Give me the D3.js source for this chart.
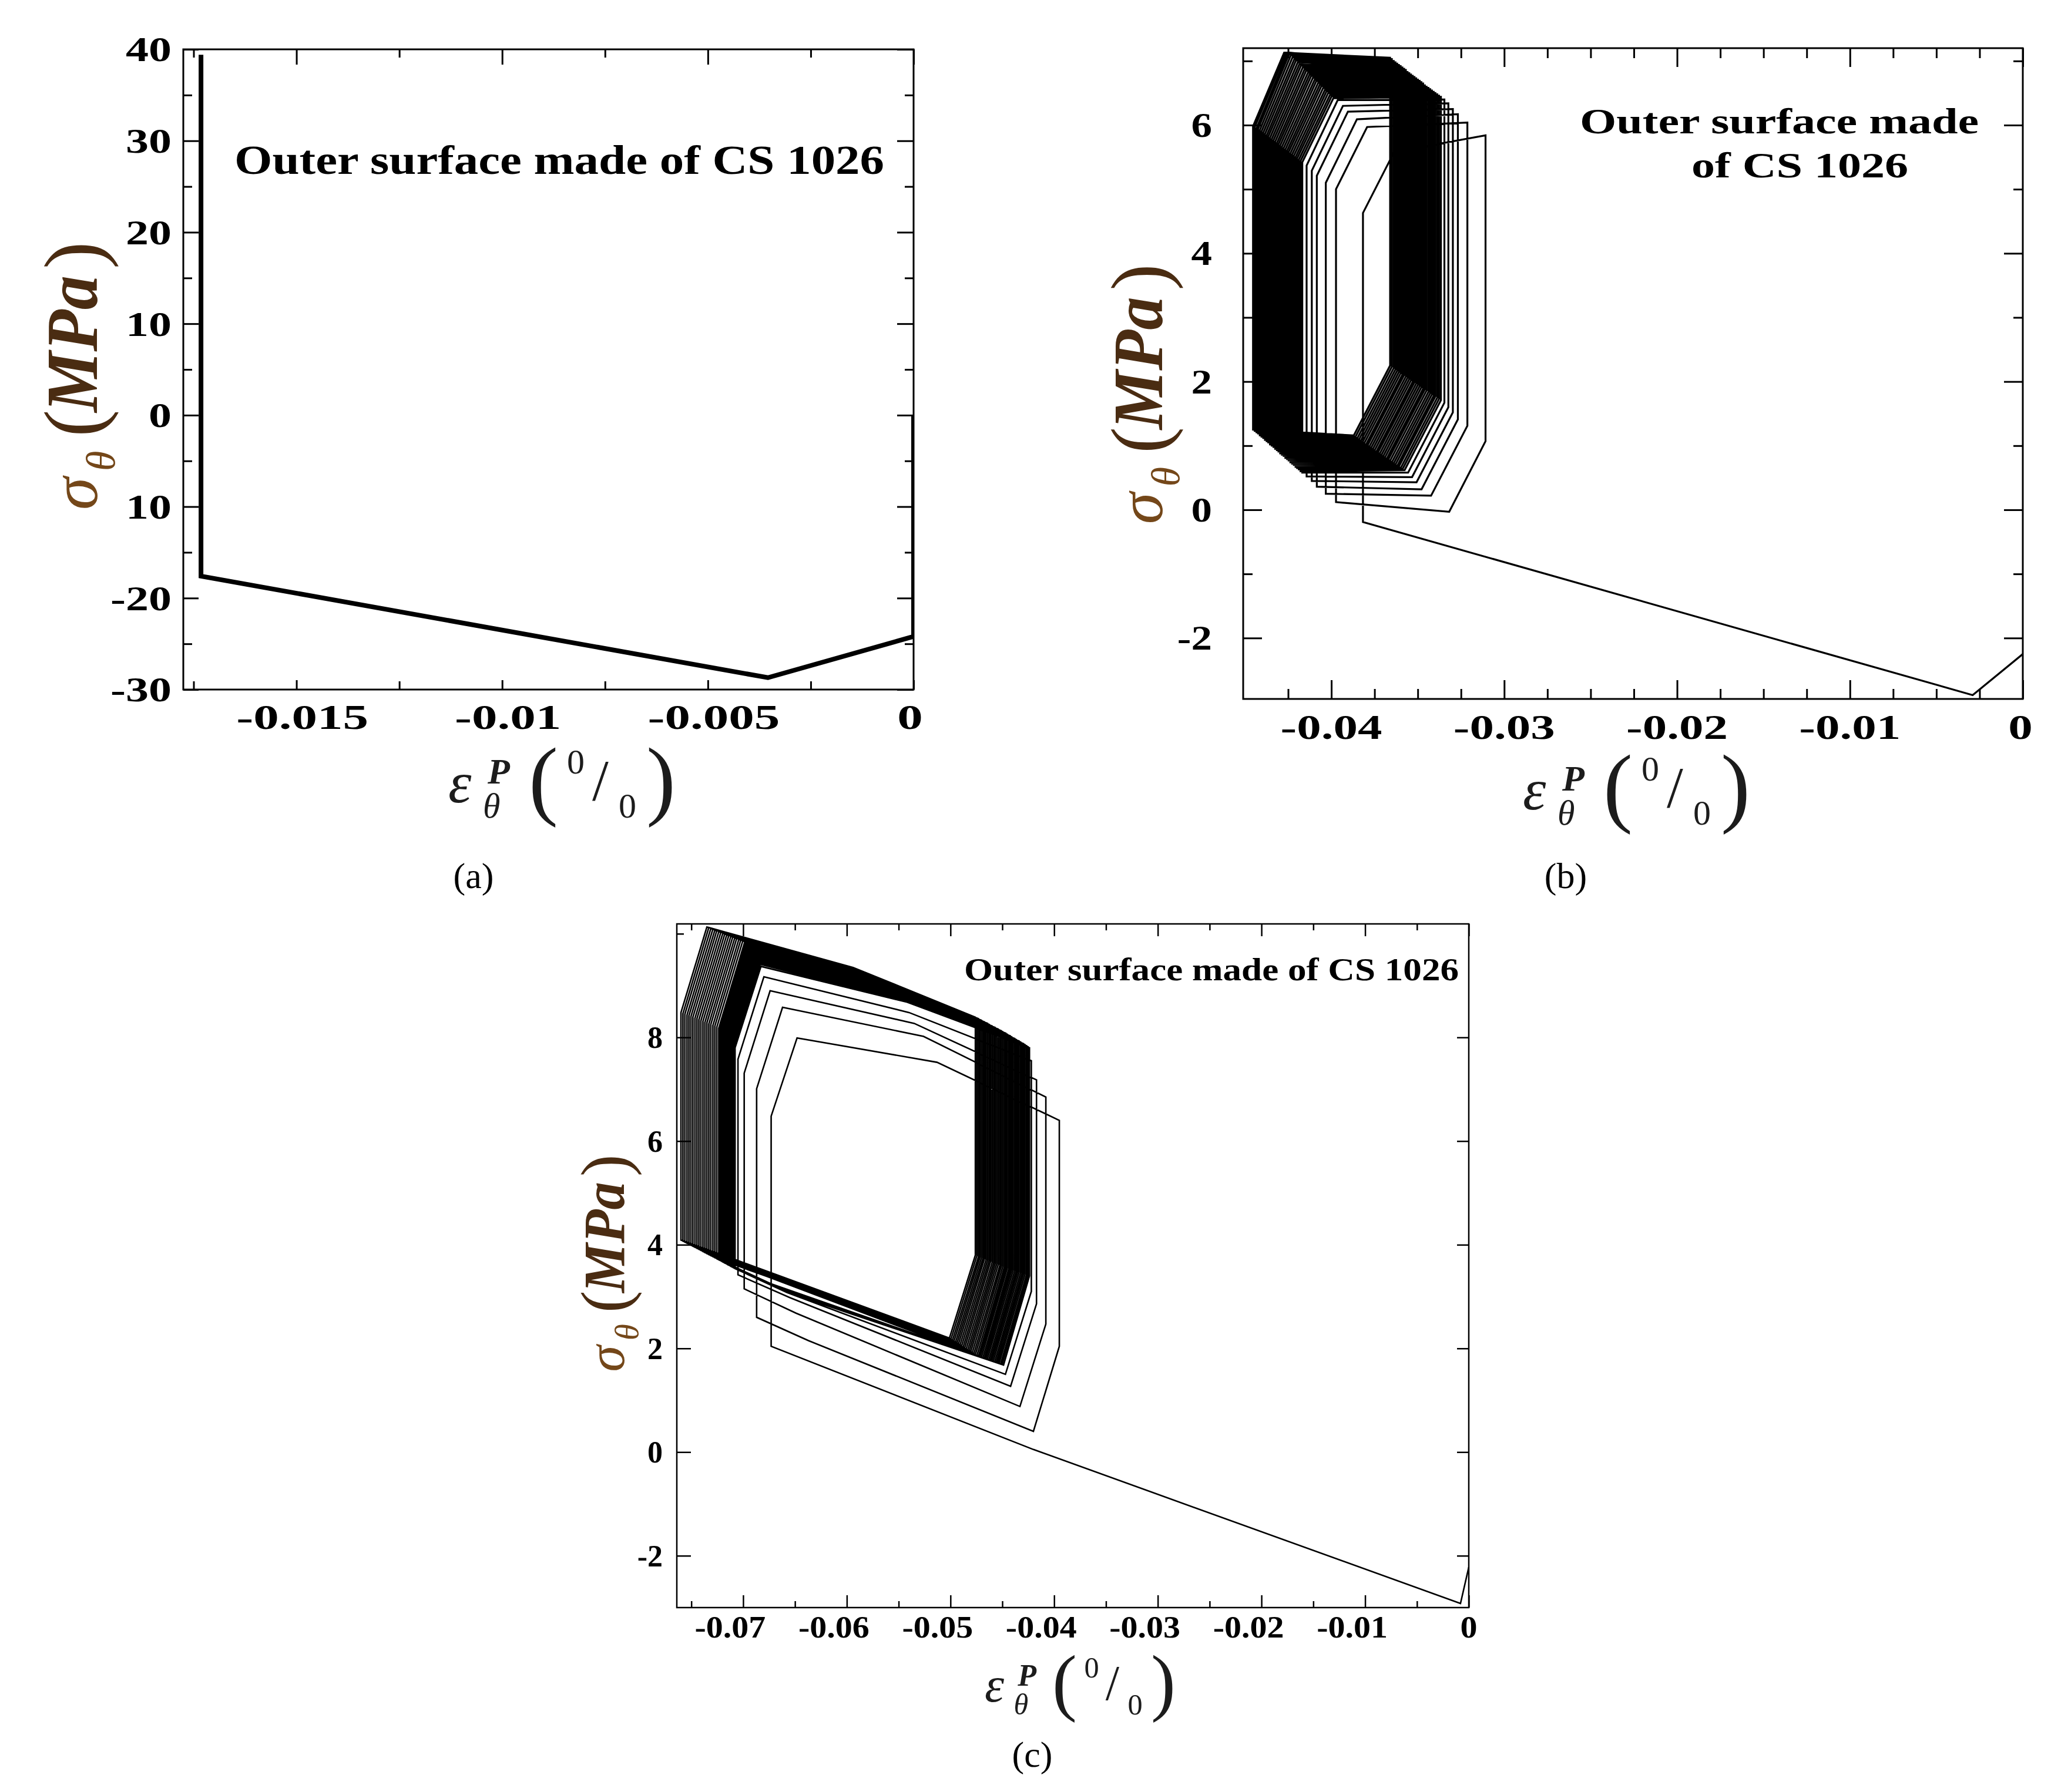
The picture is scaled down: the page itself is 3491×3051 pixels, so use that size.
<!DOCTYPE html>
<html><head><meta charset="utf-8">
<script src="https://cdn.jsdelivr.net/npm/d3@7"></script>
<style>body{margin:0;background:#fff}svg{display:block}</style>
</head><body>
<svg id="chart" width="3491" height="3051"></svg>
<script>
// ---------------- DATA ----------------
// Panel (a): single loading path
const aStrain = [0, 0, -0.00354, -0.01732, -0.01732];
const aStress = [0, -24.2, -28.7, -17.6, 39.4];
const aXMajor = [-0.015, -0.01, -0.005, 0];
const aXMinor = [-0.0175, -0.0125, -0.0075, -0.0025];
const aXLabels = ["-0.015", "-0.01", "-0.005", "0"];
const aYMajor = [40, 30, 20, 10, 0, -10, -20, -30];
const aYMinor = [35, 25, 15, 5, -5, -15, -25];
const aYLabels = ["40", "30", "20", "10", "0", "10", "-20", "-30"];

// Panel (b): initial path + ratcheting loops (one value per cycle)
const bInitStrain = [0, -0.0029, -0.03817];
const bInitStress = [-2.25, -2.89, -0.19];
const bLeftX   = [-0.03817,-0.03973,-0.04032,-0.04084,-0.04113,-0.04143,
  -0.04168,-0.04178,-0.04188,-0.04198,-0.04207,-0.04217,-0.04227,-0.04237,-0.04247,-0.04256,-0.04266,-0.04276,-0.04286,-0.04296,-0.04306,
  -0.04315,-0.04325,-0.04335,-0.04345,-0.04355,-0.04365,-0.04374,-0.04384,-0.04394,-0.04404,-0.04414,-0.04424,-0.04433,-0.04443,-0.04453];
const bLeftBot = [-0.19,0.12,0.25,0.36,0.45,0.52,
  0.58,0.60,0.63,0.65,0.67,0.70,0.72,0.74,0.77,0.79,0.81,0.84,0.86,0.88,0.91,
  0.93,0.95,0.98,1.00,1.02,1.05,1.07,1.09,1.12,1.14,1.16,1.19,1.21,1.23,1.25];
const bLeftTop = [4.63,5.00,5.10,5.21,5.29,5.37,
  5.42,5.44,5.46,5.48,5.50,5.52,5.54,5.56,5.58,5.60,5.62,5.64,5.66,5.68,5.70,
  5.72,5.74,5.76,5.78,5.80,5.82,5.84,5.86,5.88,5.90,5.92,5.94,5.95,5.97,5.98];
const bTopY    = [5.58,5.97,6.09,6.21,6.30,6.39,
  6.42,6.45,6.47,6.50,6.53,6.55,6.58,6.61,6.63,6.66,6.69,6.71,6.74,6.77,6.79,
  6.82,6.85,6.87,6.90,6.93,6.95,6.98,7.01,7.03,7.06,7.09,7.11,7.12,7.13,7.13];
const bRightX  = [-0.03108,-0.03213,-0.03268,-0.03297,-0.03323,-0.03346,
  -0.03366,-0.03377,-0.03387,-0.03398,-0.03408,-0.03418,-0.03428,-0.03438,-0.03449,-0.03459,-0.03469,-0.03479,-0.03489,-0.03499,-0.03509,
  -0.03519,-0.03529,-0.03539,-0.03549,-0.03559,-0.03569,-0.03579,-0.03589,-0.03599,-0.03609,-0.03619,-0.03629,-0.03639,-0.03650,-0.03660];
const bRightTop= [5.84,6.04,6.17,6.25,6.34,6.40,
  6.44,6.46,6.48,6.50,6.52,6.54,6.56,6.58,6.60,6.62,6.65,6.67,6.69,6.71,6.73,
  6.75,6.77,6.79,6.81,6.83,6.86,6.88,6.90,6.92,6.94,6.96,6.98,7.00,7.03,7.05];
const bRightBot= [1.07,1.31,1.41,1.52,1.60,1.67,
  1.71,1.73,1.75,1.77,1.78,1.80,1.82,1.84,1.86,1.88,1.89,1.91,1.93,1.95,1.97,
  1.99,2.00,2.02,2.04,2.06,2.08,2.10,2.11,2.13,2.15,2.17,2.19,2.21,2.23,2.25];
const bBotY    = [-0.03,0.22,0.32,0.43,0.51,0.58,
  0.62,0.64,0.66,0.68,0.69,0.71,0.73,0.75,0.77,0.79,0.80,0.82,0.84,0.86,0.88,
  0.90,0.91,0.93,0.95,0.97,0.99,1.01,1.02,1.04,1.06,1.08,1.10,1.12,1.14,1.16];
const bUpRun = 0.0018, bDownRun = 0.0021;   // strain run of the diagonal branches
const bXMajor = [-0.04, -0.03, -0.02, -0.01, 0];
const bXMinor = [-0.0425,-0.0375,-0.035,-0.0325,-0.0275,-0.025,-0.0225,-0.0175,-0.015,-0.0125,-0.0075,-0.005,-0.0025];
const bXLabels = ["-0.04", "-0.03", "-0.02", "-0.01", "0"];
const bYMajor = [6, 4, 2, 0, -2];
const bYMinor = [7, 5, 3, 1, -1];
const bYLabels = ["6", "4", "2", "0", "-2"];

// Panel (c)
const cInitStrain = [0, -0.0008, -0.042, -0.0673];
const cInitStress = [-2.22, -2.92, 0.05, 2.04];
const cLeftX   = [-0.0673,-0.0687,-0.0699,-0.0705,
  -0.07078,-0.07087,-0.07096,-0.07106,-0.07115,-0.07124,-0.07133,-0.07143,-0.07152,-0.07161,-0.07170,-0.07180,-0.07189,-0.07198,-0.07207,-0.07217,-0.07226,-0.07235,
  -0.07254,-0.07273,-0.07292,-0.07312,-0.07331,-0.07350,-0.07369,-0.07388,-0.07408,-0.07427,-0.07446,-0.07465,-0.07485,-0.07504,-0.07523,-0.07542,-0.07562,-0.07581,-0.07600];
const cLeftBot = [2.04,2.60,3.15,3.42,
  3.54,3.55,3.56,3.58,3.58,3.59,3.61,3.61,3.62,3.64,3.64,3.65,3.67,3.67,3.68,3.70,3.70,3.71,
  3.73,3.75,3.77,3.79,3.81,3.83,3.85,3.87,3.89,3.91,3.93,3.95,3.97,3.99,4.01,4.03,4.05,4.07,4.09];
const cLeftTop = [6.48,7.01,7.31,7.58,
  7.80,7.83,7.86,7.88,7.91,7.94,7.96,7.98,8.00,8.02,8.04,8.06,8.08,8.10,8.12,8.14,8.16,8.18,
  8.20,8.22,8.23,8.25,8.26,8.28,8.29,8.31,8.32,8.34,8.36,8.37,8.39,8.40,8.42,8.43,8.45,8.46,8.48];
const cTopY    = [7.99,8.58,8.90,9.17,
  9.37,9.41,9.44,9.47,9.50,9.53,9.56,9.59,9.62,9.64,9.67,9.70,9.72,9.75,9.77,9.80,9.82,9.84,
  9.86,9.88,9.89,9.91,9.92,9.94,9.95,9.97,9.98,10.00,10.01,10.03,10.04,10.06,10.07,10.09,10.10,10.12,10.13];
const cKneeY   = [7.52,8.02,8.27,8.48,
  8.68,8.70,8.72,8.74,8.76,8.78,8.80,8.82,8.84,8.86,8.88,8.90,8.92,8.94,8.96,8.98,9.00,9.02,
  9.04,9.06,9.07,9.09,9.11,9.13,9.14,9.16,9.18,9.20,9.21,9.23,9.25,9.26,9.28,9.30,9.32,9.33,9.35];
const cRightX  = [-0.0395,-0.0408,-0.0417,-0.0422,
  -0.04238,-0.04252,-0.04266,-0.04281,-0.04295,-0.04309,-0.04323,-0.04338,-0.04352,-0.04366,-0.04380,-0.04395,-0.04409,-0.04423,-0.04437,-0.04452,-0.04466,-0.04480,
  -0.04495,-0.04510,-0.04524,-0.04539,-0.04554,-0.04569,-0.04583,-0.04598,-0.04613,-0.04627,-0.04642,-0.04657,-0.04672,-0.04686,-0.04701,-0.04716,-0.04730,-0.04745,-0.04760];
const cRightTop= [6.40,6.85,7.18,7.55,
  7.80,7.82,7.84,7.86,7.88,7.89,7.91,7.93,7.94,7.96,7.98,7.99,8.01,8.03,8.04,8.06,8.08,8.09,
  8.11,8.13,8.14,8.16,8.17,8.19,8.20,8.22,8.23,8.25,8.27,8.28,8.30,8.31,8.33,8.34,8.36,8.37,8.39];
const cRightBot= [2.04,2.47,2.86,3.10,
  3.40,3.41,3.42,3.43,3.44,3.45,3.46,3.47,3.48,3.49,3.50,3.51,3.52,3.53,3.54,3.55,3.56,3.57,
  3.58,3.59,3.60,3.62,3.63,3.64,3.65,3.66,3.68,3.69,3.70,3.71,3.73,3.74,3.75,3.76,3.77,3.79,3.80];
const cBotY    = [0.40,0.88,1.27,1.50,
  1.68,1.69,1.70,1.71,1.72,1.73,1.74,1.75,1.76,1.77,1.78,1.79,1.80,1.81,1.82,1.83,1.84,1.85,
  1.86,1.88,1.90,1.92,1.94,1.95,1.97,1.99,2.01,2.03,2.05,2.07,2.09,2.11,2.12,2.14,2.16,2.18,2.20];
const cBotKneeY= [2.15,2.68,2.98,3.08,
  3.09,3.10,3.11,3.12,3.13,3.14,3.15,3.16,3.17,3.18,3.19,3.20,3.21,3.22,3.23,3.24,3.25,3.26,
  3.39,3.41,3.43,3.45,3.47,3.48,3.50,3.52,3.54,3.56,3.58,3.60,3.62,3.64,3.65,3.67,3.69,3.71,3.73];
const cDiagRun = 0.0025, cKneeRun = 0.0118, cBotKneeRun = 0.0050;
const cXMajor = [-0.07,-0.06,-0.05,-0.04,-0.03,-0.02,-0.01,0];
const cXMinor = [-0.075,-0.065,-0.055,-0.045,-0.035,-0.025,-0.015,-0.005];
const cXLabels = ["-0.07","-0.06","-0.05","-0.04","-0.03","-0.02","-0.01","0"];
const cYMajor = [8, 6, 4, 2, 0, -2];
const cYMinor = [10];
const cYLabels = ["8", "6", "4", "2", "0", "-2"];

const annotation = "Outer surface made of CS 1026";

// ---------------- DRAWING ----------------
const SERIF = "'Liberation Serif','Times New Roman',serif";
const svg = d3.select('#chart');
svg.append('rect').attr('width',3491).attr('height',3051).attr('fill','#fff');

// nominal Times-Bold advance widths (em) used to size tick labels like the reference
const EM = {'-': 0.333, '.': 0.25};
const emWidth = s => [...s].reduce((a, ch) => a + (EM[ch] !== undefined ? EM[ch] : 0.5), 0);

function makePanel(cfg, id) {
  const x = d3.scaleLinear().domain(cfg.xd).range([cfg.l, cfg.r]);
  const y = d3.scaleLinear().domain(cfg.yd).range([cfg.b, cfg.t]);
  const g = svg.append('g');
  svg.append('clipPath').attr('id', id).append('rect')
    .attr('x', cfg.l).attr('y', cfg.t).attr('width', cfg.r - cfg.l).attr('height', cfg.b - cfg.t);
  const data = g.append('g').attr('clip-path', `url(#${id})`);
  return {x, y, g, data, cfg};
}

function drawTicks(p, side, values, len, sw) {
  const c = p.cfg;
  let ax, tr;
  if (side === 'bottom') { ax = d3.axisBottom(p.x); tr = `translate(0,${c.b})`; }
  if (side === 'top')    { ax = d3.axisTop(p.x);    tr = `translate(0,${c.t})`; }
  if (side === 'left')   { ax = d3.axisLeft(p.y);   tr = `translate(${c.l},0)`; }
  if (side === 'right')  { ax = d3.axisRight(p.y);  tr = `translate(${c.r},0)`; }
  ax.tickValues(values).tickSize(-len).tickFormat('');
  const gg = p.g.append('g').attr('transform', tr).call(ax);
  gg.select('.domain').remove();
  gg.selectAll('line').attr('stroke', '#000').attr('stroke-width', sw);
}

function frame(p, sw) {
  const c = p.cfg;
  p.g.append('rect').attr('x', c.l).attr('y', c.t).attr('width', c.r - c.l).attr('height', c.b - c.t)
    .attr('fill', 'none').attr('stroke', '#000').attr('stroke-width', sw);
}

function xLabels(p, vals, labels, base, fs, pxPerEm, offFn) {
  p.g.append('g').selectAll('text').data(vals).join('text')
    .attr('x', d => p.x(d) + offFn(d)).attr('y', base)
    .attr('text-anchor', 'middle').attr('font-family', SERIF).attr('font-weight', 'bold')
    .attr('font-size', fs).attr('fill', '#000')
    .attr('textLength', (d, i) => emWidth(labels[i]) * pxPerEm).attr('lengthAdjust', 'spacingAndGlyphs')
    .text((d, i) => labels[i]);
}
function yLabels(p, vals, labels, right, fs, pxPerEm) {
  p.g.append('g').selectAll('text').data(vals).join('text')
    .attr('x', right).attr('y', d => p.y(d) + fs * 0.34)
    .attr('text-anchor', 'end').attr('font-family', SERIF).attr('font-weight', 'bold')
    .attr('font-size', fs).attr('fill', '#000')
    .attr('textLength', (d, i) => emWidth(labels[i]) * pxPerEm).attr('lengthAdjust', 'spacingAndGlyphs')
    .text((d, i) => labels[i]);
}

function yTitle(bx, cy, s) {
  const g = svg.append('g').attr('transform', `translate(${bx},${cy}) rotate(-90) scale(${s})`)
    .attr('font-family', SERIF);
  g.append('text').attr('x', -224).attr('y', 0).attr('font-size', 112).attr('font-style', 'italic').attr('fill', '#744719').text('σ');
  g.append('text').attr('x', -158).attr('y', 30).attr('font-size', 70).attr('font-style', 'italic').attr('fill', '#744719').text('θ');
  g.append('text').attr('x', -100).attr('y', 7).attr('font-size', 140).attr('fill', '#4a2c12').text('(');
  g.append('text').attr('x', -58).attr('y', 0).attr('font-size', 124).attr('font-style', 'italic').attr('fill', '#4a2c12')
    .attr('font-weight', 'bold').attr('textLength', 233).attr('lengthAdjust', 'spacingAndGlyphs').text('MPa');
  g.append('text').attr('x', 186).attr('y', 7).attr('font-size', 140).attr('fill', '#4a2c12').text(')');
}

function xTitle(ox, oy, s) {
  const g = svg.append('g').attr('transform', `translate(${ox},${oy}) scale(${s})`)
    .attr('fill', '#1c1c1c').attr('font-family', SERIF);
  g.append('text').attr('x', -187).attr('y', 0).attr('font-size', 100).attr('font-style', 'italic').text('ε');
  g.append('text').attr('x', -120).attr('y', -32).attr('font-size', 62).attr('font-style', 'italic').attr('font-weight', 'bold').text('P');
  g.append('text').attr('x', -128).attr('y', 26).attr('font-size', 60).attr('font-style', 'italic').text('θ');
  g.append('text').attr('x', -50).attr('y', 11).attr('font-size', 150).text('(');
  g.append('text').attr('x', 15).attr('y', -49).attr('font-size', 60).text('0');
  g.append('text').attr('x', 58).attr('y', -4).attr('font-size', 100).text('/');
  g.append('text').attr('x', 103).attr('y', 26).attr('font-size', 60).text('0');
  g.append('text').attr('x', 150).attr('y', 11).attr('font-size', 150).text(')');
}

function caption(cx, base, letter) {
  svg.append('text').attr('x', cx).attr('y', base).attr('text-anchor', 'middle')
    .attr('font-family', SERIF).attr('font-size', 62).attr('fill', '#000').text('(' + letter + ')');
}

function polyline(p, pts, sw) {
  const line = d3.line().x(d => p.x(d[0])).y(d => p.y(d[1]));
  p.data.append('path').attr('d', line(pts)).attr('fill', 'none').attr('stroke', '#000')
    .attr('stroke-width', sw).attr('stroke-linejoin', 'miter').attr('stroke-miterlimit', 4);
}

// ---- Panel (a)
const PA = makePanel({l: 312, r: 1555, t: 84, b: 1174, xd: [-0.01775, 0], yd: [-30, 40]}, 'clipA');
polyline(PA, aStrain.map((v, i) => [v, aStress[i]]), 8);
frame(PA, 3);
drawTicks(PA, 'top', aXMajor, 26, 3); drawTicks(PA, 'top', aXMinor, 14, 3);
drawTicks(PA, 'bottom', aXMajor, 16, 3); drawTicks(PA, 'bottom', aXMinor, 14, 3);
drawTicks(PA, 'left', aYMajor, 26, 3); drawTicks(PA, 'left', aYMinor, 15, 3);
drawTicks(PA, 'right', aYMajor, 28, 3); drawTicks(PA, 'right', aYMinor, 15, 3);
xLabels(PA, aXMajor, aXLabels, 1241, 60, 87, d => (d === 0 ? -6 : 10));
yLabels(PA, aYMajor, aYLabels, 292, 60, 78);
PA.g.append('text').attr('x', 399).attr('y', 296).attr('font-family', SERIF).attr('font-weight', 'bold')
  .attr('font-size', 69).attr('textLength', 1106).attr('lengthAdjust', 'spacingAndGlyphs').text(annotation);
yTitle(165, 644, 1.0);
xTitle(950, 1366, 1.0);
caption(806, 1512, 'a');

// ---- Panel (b)
const PB = makePanel({l: 2116, r: 3443, t: 82, b: 1190, xd: [-0.0451, 0], yd: [-2.95, 7.2]}, 'clipB');
(function () {
  const pts = bInitStrain.map((v, i) => [v, bInitStress[i]]);
  const n = bLeftX.length;
  for (let k = 0; k < n; k++) {
    pts.push([bLeftX[k], bLeftBot[k]]);
    pts.push([bLeftX[k], bLeftTop[k]]);
    pts.push([bLeftX[k] + bUpRun, bTopY[k]]);
    pts.push([bRightX[k], bRightTop[k]]);
    pts.push([bRightX[k], bRightBot[k]]);
    pts.push([bRightX[k] - bDownRun, bBotY[k]]);
  }
  pts.push([bLeftX[n - 1], bLeftBot[n - 1]]);
  polyline(PB, pts, 3.2);
})();
frame(PB, 3);
drawTicks(PB, 'top', bXMajor, 32, 3); drawTicks(PB, 'top', bXMinor, 17, 3);
drawTicks(PB, 'bottom', bXMajor, 32, 3); drawTicks(PB, 'bottom', bXMinor, 17, 3);
drawTicks(PB, 'left', bYMajor, 32, 3); drawTicks(PB, 'left', bYMinor, 16, 3);
drawTicks(PB, 'right', bYMajor, 32, 3); drawTicks(PB, 'right', bYMinor, 16, 3);
xLabels(PB, bXMajor, bXLabels, 1258, 59, 83, d => (d === 0 ? -4 : 0));
yLabels(PB, bYMajor, bYLabels, 2063, 59, 71);
PB.g.append('text').attr('x', 2689).attr('y', 227).attr('font-family', SERIF).attr('font-weight', 'bold')
  .attr('font-size', 62).attr('textLength', 679).attr('lengthAdjust', 'spacingAndGlyphs').text('Outer surface made');
PB.g.append('text').attr('x', 2879).attr('y', 302).attr('font-family', SERIF).attr('font-weight', 'bold')
  .attr('font-size', 62).attr('textLength', 369).attr('lengthAdjust', 'spacingAndGlyphs').text('of CS 1026');
yTitle(1978, 675, 0.97);
xTitle(2779, 1378, 1.0);
caption(2665, 1512, 'b');

// ---- Panel (c)
const PC = makePanel({l: 1152, r: 2500, t: 1573, b: 2737, xd: [-0.0764, 0], yd: [-3.0, 10.19]}, 'clipC');
(function () {
  const pts = cInitStrain.map((v, i) => [v, cInitStress[i]]);
  const n = cLeftX.length;
  for (let k = 0; k < n; k++) {
    const nextL = k < n - 1 ? cLeftX[k + 1] : cLeftX[k];
    pts.push([cLeftX[k], cLeftBot[k]]);
    pts.push([cLeftX[k], cLeftTop[k]]);
    pts.push([cLeftX[k] + cDiagRun, cTopY[k]]);
    pts.push([cRightX[k] - cKneeRun, cKneeY[k]]);
    pts.push([cRightX[k], cRightTop[k]]);
    pts.push([cRightX[k], cRightBot[k]]);
    pts.push([cRightX[k] - cDiagRun, cBotY[k]]);
    pts.push([nextL + cBotKneeRun, cBotKneeY[k]]);
  }
  pts.push([cLeftX[n - 1], cLeftBot[n - 1]]);
  polyline(PC, pts, 2.6);
})();
frame(PC, 2.5);
drawTicks(PC, 'top', cXMajor, 21, 2.5); drawTicks(PC, 'top', cXMinor, 11, 2.5);
drawTicks(PC, 'bottom', cXMajor, 21, 2.5); drawTicks(PC, 'bottom', cXMinor, 11, 2.5);
drawTicks(PC, 'left', cYMajor, 24, 2.5); drawTicks(PC, 'left', cYMinor, 12, 2.5);
drawTicks(PC, 'right', cYMajor, 20, 2.5);
xLabels(PC, cXMajor, cXLabels, 2788, 53, 58, d => (d === 0 ? 0 : -22));
yLabels(PC, cYMajor, cYLabels, 1128, 53, 52);
PC.g.append('text').attr('x', 1641).attr('y', 1669).attr('font-family', SERIF).attr('font-weight', 'bold')
  .attr('font-size', 54).attr('textLength', 842).attr('lengthAdjust', 'spacingAndGlyphs').text(annotation);
yTitle(1062, 2154, 0.81);
xTitle(1833, 2897, 0.84);
caption(1757, 3008, 'c');
</script>
</body></html>
